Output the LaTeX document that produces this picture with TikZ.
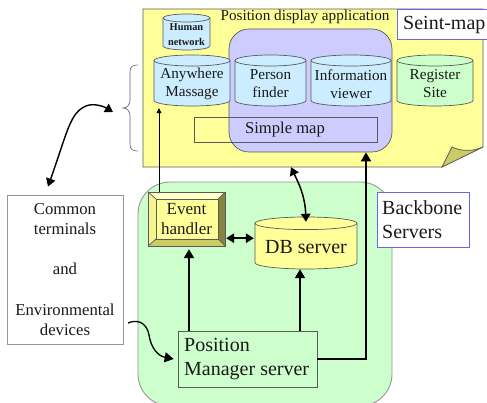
\documentclass[tikz,border=0pt]{standalone}
\usepackage{fontspec}
\setmainfont{Liberation Serif}
\usetikzlibrary{arrows.meta,calc}
\definecolor{paperY}{HTML}{FFFF99}
\definecolor{flapY}{HTML}{CCCC66}
\definecolor{lilac}{HTML}{CCCCFF}
\definecolor{skyB}{HTML}{CCECFF}
\definecolor{mint}{HTML}{CCFFCC}
\definecolor{edgeG}{HTML}{5A5A5A}
\definecolor{boxG}{HTML}{969696}
\definecolor{labelB}{HTML}{6666EE}
\definecolor{inkD}{HTML}{1A1A1A}
\tikzset{
  shell/.style={draw=edgeG,line width=0.7pt},
  labelbox/.style={draw=labelB,fill=white,line width=0.8pt,inner sep=0pt,align=left,text=black},
  cyltext/.style={align=center,inner sep=0pt,text=inkD,font=\fontsize{15.2}{18}\selectfont},
  cylsmall/.style={align=center,inner sep=0pt,text=inkD,font=\fontsize{10.4}{14.5}\selectfont\bfseries},
  cylbig/.style={align=center,inner sep=0pt,text=inkD,font=\fontsize{20}{22}\selectfont},
  tip/.style={-{Triangle[length=9pt,width=10pt]}},
  bothtip/.style={{Triangle[length=8pt,width=9.5pt]}-{Triangle[length=8pt,width=9.5pt]}},
}
% name x1 y1 x2 y2 ry fill dy text
\newcommand\cylshape[9]{%
  \pgfmathsetmacro\cyA{#3+#6}%
  \pgfmathsetmacro\cyB{#5-#6}%
  \pgfmathsetmacro\cyRx{(#4-#2)/2}%
  \draw[shell,fill=#7] (#2,\cyA) -- (#2,\cyB)
    arc[start angle=180,end angle=360,x radius=\cyRx pt,y radius=#6 pt]
    -- (#4,\cyA)
    arc[start angle=0,end angle=180,x radius=\cyRx pt,y radius=#6 pt] -- cycle;
  \draw[shell] (#2,\cyA) arc[start angle=180,end angle=360,x radius=\cyRx pt,y radius=#6 pt];
  \pgfmathsetmacro\cyCx{(#2+#4)/2}%
  \pgfmathsetmacro\cyCy{(#3+#5)/2+#8}%
  \pgfmathsetmacro\cyW{#4-#2}%
  \pgfmathsetmacro\cyH{#5-#3-2*#8}%
  \cylnode{#1}{#9}%
}
\newcommand\cylnode[2]{\node[cylstyle,minimum width=\cyW pt,minimum height=\cyH pt] (#1) at (\cyCx,\cyCy) {#2};}
\begin{document}
\begin{tikzpicture}[x=1pt,y=-1pt,every node/.append style={text=inkD}]
\useasboundingbox (0,0) rectangle (487,403);
\clip (0,0) rectangle (487,403);
% sheet
\node[minimum width=340pt,minimum height=158pt,inner sep=0pt] (paper) at (313,88) {};
\draw[shell,fill=paperY] (143,9) -- (483,9) -- (483,147) -- (442,167) -- (143,167) -- cycle;
\draw[shell,fill=flapY] (442,167) -- (452,147) .. controls (460,151) and (472,152) .. (483,147) -- cycle;
\node[labelbox,minimum width=95pt,minimum height=30pt] (seint) at (444.5,24) {};
\node[font=\fontsize{20}{22}\selectfont,inner sep=0pt,anchor=west] (seinttext) at (403,25) {Seint-map};
\node[font=\fontsize{15.2}{17}\selectfont,inner sep=0pt] (pda) at (305,17) {Position display application};
% purple panel
\node[shell,fill=lilac,rounded corners=20pt,minimum width=163pt,minimum height=123pt,inner sep=0pt] (panel) at (310.5,90.5) {};
\tikzset{cylstyle/.style={cylsmall}}
\cylshape{human}{163}{14}{210}{50}{4}{skyB}{2.5}{Human\\network}
\tikzset{cylstyle/.style={cyltext}}
\cylshape{any}{154}{55}{230}{106}{5.5}{skyB}{3.5}{Anywhere\\Massage}
\cylshape{person}{235}{55}{306}{106}{5.5}{skyB}{3.5}{Person\\finder}
\cylshape{info}{311}{55}{391}{106}{5.5}{skyB}{3.5}{Information\\viewer}
\cylshape{reg}{397}{55}{473}{106}{5.5}{mint}{3.5}{Register\\Site}
\node[draw=edgeG,line width=0.7pt,minimum width=183pt,minimum height=25pt,inner sep=0pt] (map) at (285.5,129.5) {};
\node[font=\fontsize{16.6}{18}\selectfont,inner sep=0pt] (maptext) at (285,130) {Simple map};
% brace
\draw[edgeG,line width=0.6pt] (138,65) .. controls (133,65) and (130,66) .. (130,72) -- (130,100)
  .. controls (130,105) and (127,108) .. (123,108)
  .. controls (127,108) and (130,111) .. (130,116) -- (130,144)
  .. controls (130,150) and (133,151) .. (138,151);
\coordinate (bracetip) at (113,112);
\coordinate (envstart) at (128,323);
% left box
\node[draw=boxG,fill=white,line width=0.9pt,minimum width=116pt,minimum height=149pt,inner sep=0pt,align=center,
  font=\fontsize{16.7}{20.3}\selectfont] (common) at (65,269.5) {Common\\terminals\\[20.3pt]and\\[20.3pt]Environmental\\devices};
% green
\node[draw=boxG,fill=mint,line width=0.9pt,rounded corners=32pt,minimum width=254pt,minimum height=224pt,inner sep=0pt] (back) at (265,294) {};
\node[labelbox,minimum width=92pt,minimum height=55pt] (backbone) at (423,219.5) {};
\node[font=\fontsize{20}{24.5}\selectfont,inner sep=0pt,align=left,anchor=west] (backtext) at (382,219.5) {Backbone\\Servers};
% event handler
\node[minimum width=77pt,minimum height=54pt,inner sep=0pt] (ev) at (186.5,219) {};
\fill[paperY] (ev.north west) rectangle (ev.south east);
\fill[paperY!55!white] (148,192) -- (225,192) -- (218,199) -- (156,199) -- cycle;
\fill[paperY!80!flapY] (148,192) -- (156,199) -- (156,239) -- (148,246) -- cycle;
\fill[flapY] (148,246) -- (156,239) -- (218,239) -- (225,246) -- cycle;
\fill[black!35!flapY] (225,192) -- (218,199) -- (218,239) -- (225,246) -- cycle;
\draw[shell] (148,192) rectangle (225,246);
\draw[shell] (156,199) rectangle (218,239);
\draw[shell] (148,192) -- (156,199) (225,192) -- (218,199) (148,246) -- (156,239) (225,246) -- (218,239);
\node[inner sep=0pt,align=center,font=\fontsize{17}{20}\selectfont] (evtext) at (186.5,219) {Event\\handler};
\tikzset{cylstyle/.style={cylbig}}
\cylshape{db}{255}{217}{357}{269}{6.3}{paperY}{4}{DB server}
\node[draw=edgeG,line width=0.7pt,minimum width=139pt,minimum height=56pt,inner sep=0pt] (pm) at (247.5,359) {};
\node[font=\fontsize{20}{24}\selectfont,inner sep=0pt,align=left,anchor=west] (pmtext) at (184,359) {Position\\Manager server};
% connectors
\draw[black,line width=0.8pt,-{Triangle[length=5pt,width=5pt]}] ([xshift=-27.5pt]ev.north) -- ([xshift=-27.5pt,yshift=-2pt]ev.north |- any.south);
\draw[black,line width=2.6pt,tip] ([xshift=-58.5pt]pm.north) -- ([xshift=-58.5pt,yshift=-3pt]pm.north |- ev.south);
\draw[black,line width=1.7pt,tip] ([xshift=52.5pt]pm.north) -- ([xshift=52.5pt]pm.north |- db.south);
\draw[black,line width=1.5pt,bothtip] ([xshift=1pt,yshift=8pt]ev.south east) -- ([xshift=-1pt,yshift=8pt]db.west |- ev.south);
\draw[black,line width=2pt,tip] (pm.east) -| ([xshift=55.5pt]panel.south);
\draw[black,line width=1.5pt,bothtip] ([xshift=-22pt]paper.south) .. controls (298,182) and (305,195) .. ([yshift=3pt]db.north);
\draw[black,line width=1.4pt,bothtip] (bracetip) .. controls (103,106) and (93,103) .. (86,106) .. controls (70,113) and (68,130) .. ([xshift=-17pt,yshift=8pt]common.north);
\draw[black,line width=1.3pt,tip] (envstart) .. controls (135,320) and (146,320) .. (149,335) .. controls (151,348) and (158,356) .. ([xshift=-4pt]pm.west);
\end{tikzpicture}
\end{document}
